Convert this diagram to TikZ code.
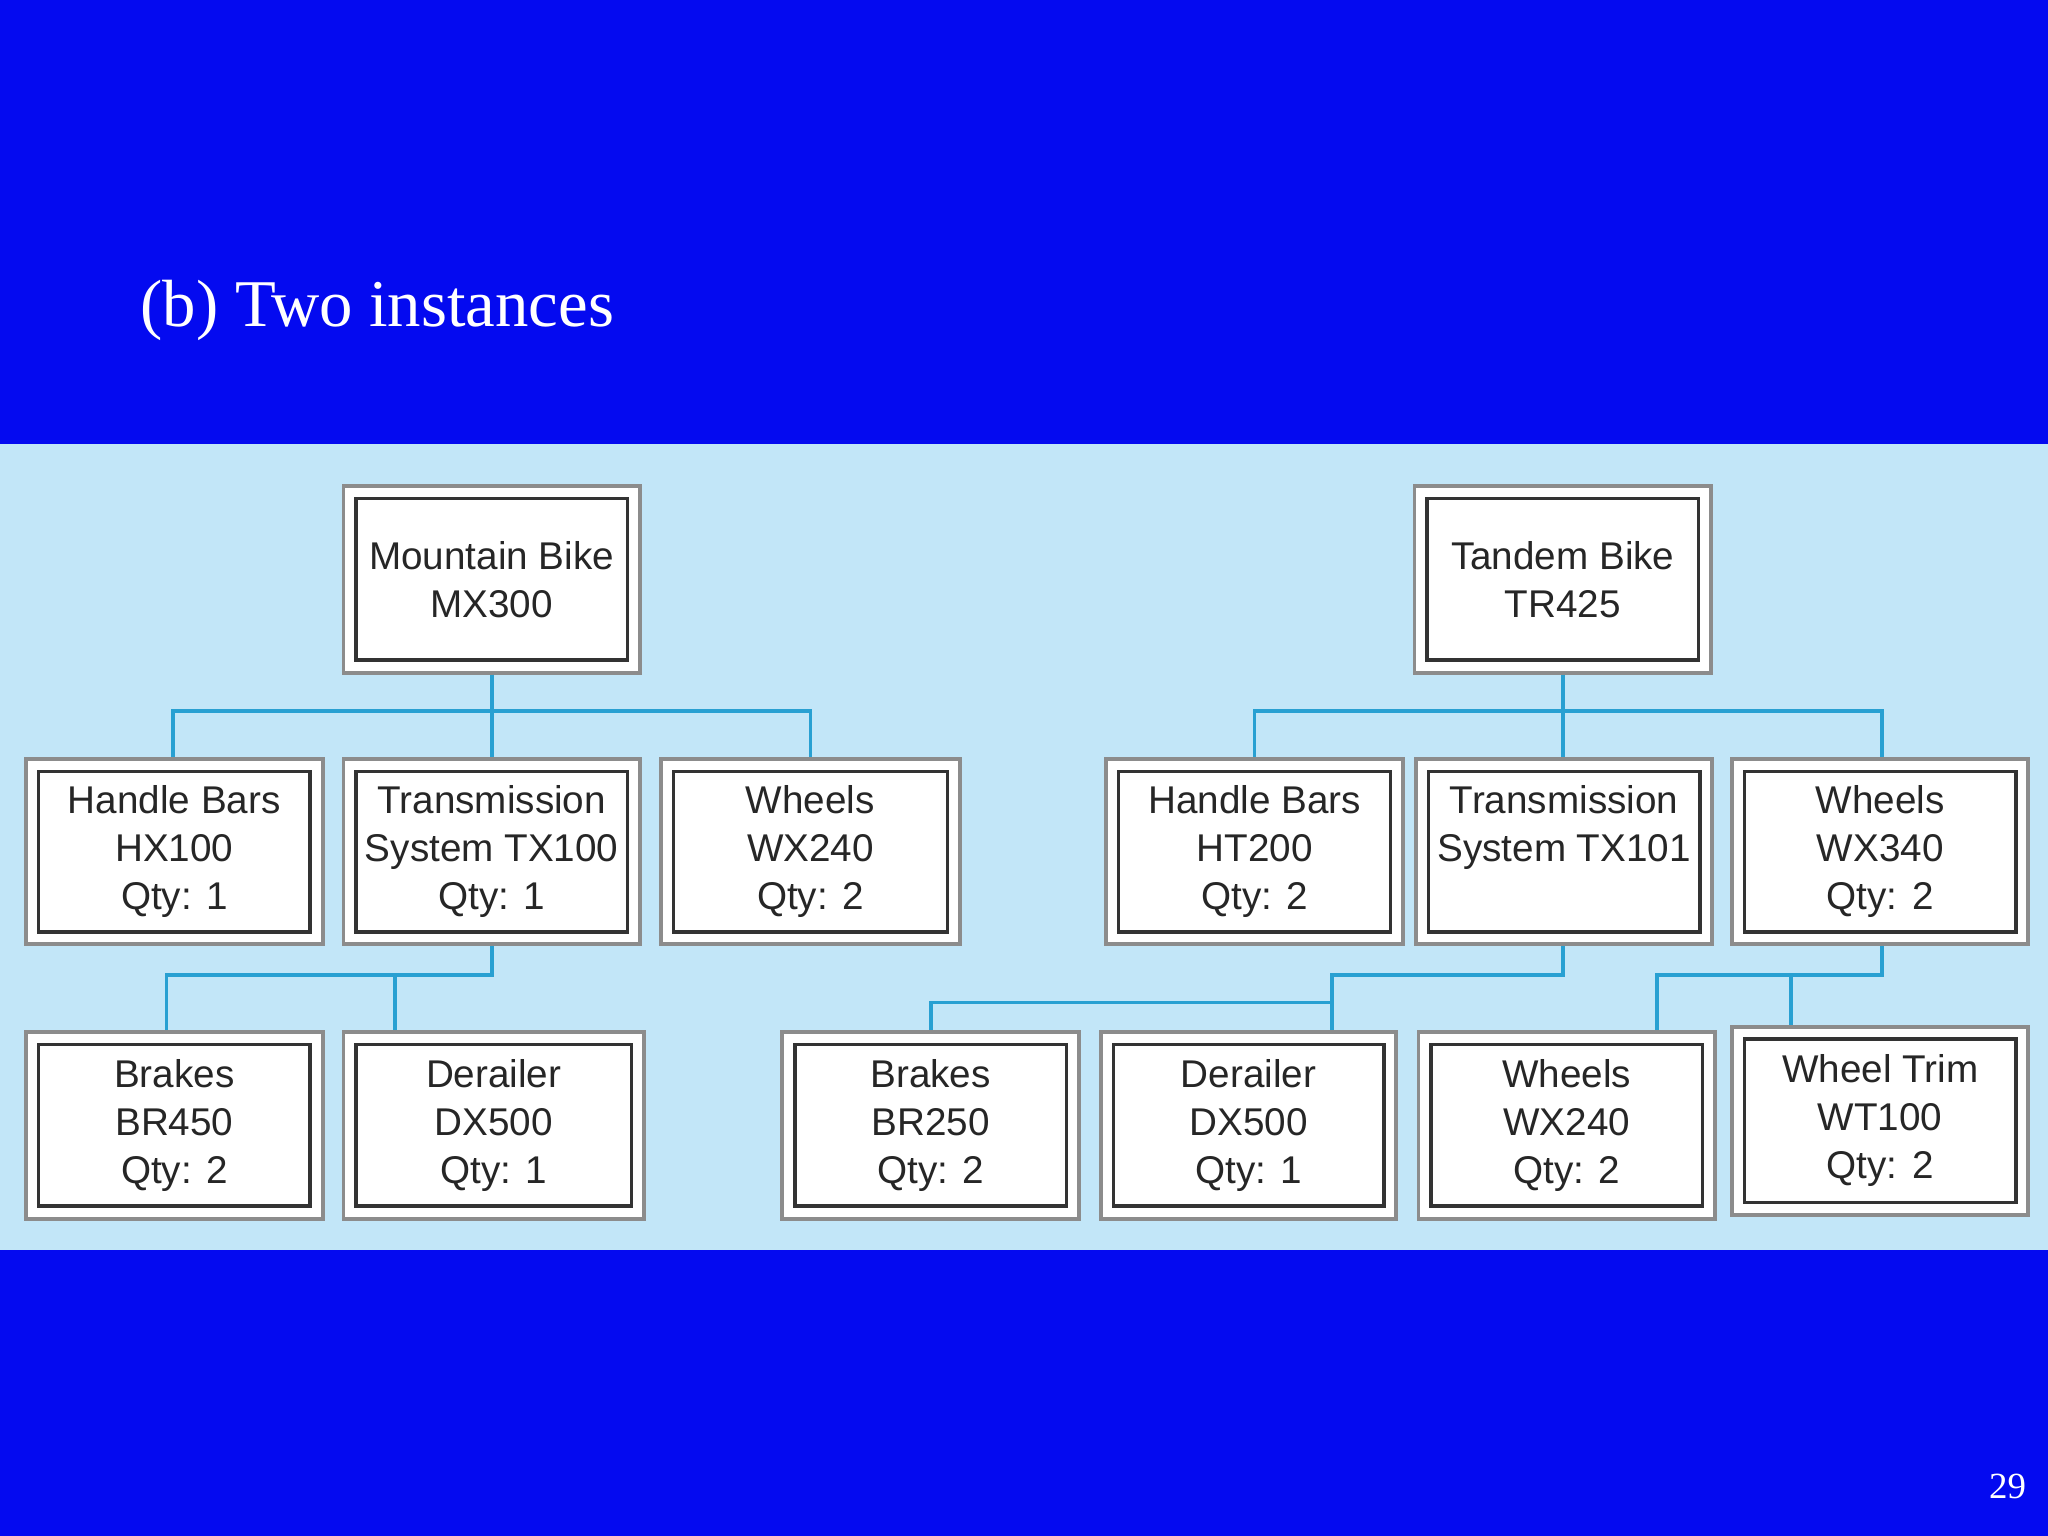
\documentclass[tikz,border=0pt]{standalone}
\usepackage{fontspec}
\setmainfont{Liberation Serif}
\newfontfamily\arial{Liberation Sans}
\usetikzlibrary{fit,calc}
\definecolor{slideblue}{RGB}{4,10,240}
\definecolor{band}{RGB}{194,230,248}
\definecolor{conn}{RGB}{40,160,210}
\tikzset{
 outerbox/.style={fit={#1},inner sep=0pt,draw=black!45,line width=1.1pt,fill=white},
 conline/.style={draw=conn,line width=1.1pt},
 lbl/.style={font=\arial\fontsize{11}{13.7}\selectfont,align=center,text=black!85}
}
\newcommand\bx[6]{%
 \node[outerbox={(#2,#3)(#4,#5)}] (#1) {};
 \draw[black!80,line width=1pt] ($(#1.north west)+(11,11)$) rectangle ($(#1.south east)+(-11,-11)$);
 \node[lbl] at (#1.center) {#6};}
\begin{document}
\begin{tikzpicture}[x=0.013061cm,y=-0.013061cm]
\fill[slideblue] (0,0) rectangle (1568,1176);
\fill[band] (0,340) rectangle (1568,957);
\node[anchor=west,inner sep=0pt,text=white,font=\fontsize{19}{22}\selectfont] (title) at (107,238) {(b) Two instances};
\node[text=white,font=\fontsize{10.5}{12}\selectfont] (pg) at (1537,1138) {29};
\bx{mx}{263}{372}{490}{515}{Mountain Bike\\MX300}
\bx{hb}{20}{581}{247}{723}{Handle Bars\\HX100\\Qty: 1}
\bx{tx}{263}{581}{490}{723}{Transmission\\System TX100\\Qty: 1}
\bx{wh}{506}{581}{735}{723}{Wheels\\WX240\\Qty: 2}
\bx{br}{20}{790}{247}{933}{Brakes\\BR450\\Qty: 2}
\bx{de}{263}{790}{493}{933}{Derailer\\DX500\\Qty: 1}
\bx{tb}{1083}{372}{1310}{515}{Tandem Bike\\TR425}
\bx{hb2}{847}{581}{1074}{723}{Handle Bars\\HT200\\Qty: 2}
\bx{tx2}{1084}{581}{1311}{723}{Transmission\\System TX101\\\phantom{Qty: 2}}
\bx{wh2}{1326}{581}{1553}{723}{Wheels\\WX340\\Qty: 2}
\bx{br2}{599}{790}{826}{933}{Brakes\\BR250\\Qty: 2}
\bx{de2}{843}{790}{1069}{933}{Derailer\\DX500\\Qty: 1}
\bx{wh3}{1086}{790}{1313}{933}{Wheels\\WX240\\Qty: 2}
\bx{wt}{1326}{786}{1553}{930}{Wheel Trim\\WT100\\Qty: 2}
% connectors
\draw[conline] (mx.south) -- ++(0,28) -| ($(hb.north)+(-1,0)$);
\draw[conline] (mx.south) -- (tx.north-|mx.south);
\draw[conline] (mx.south) ++(0,28) -| (wh.north);
\draw[conline] (tx.south-|mx.south) -- ++(0,22) -| ($(br.north)+(-6,0)$);
\draw[conline] (tx.south-|mx.south) ++(0,22) -| ($(de.north west)+(41,0)$);
\draw[conline] (tb.south) -- ++(0,28) -| (hb2.north);
\draw[conline] (tb.south) -- (tx2.north-|tb.south);
\draw[conline] (tb.south) ++(0,28) -| (wh2.north-|1441,0);
\draw[conline] (tx2.south-|tb.south) -- ++(0,22) -| ($(de2.north east)+(-51,0)$);
\draw[conline] ($(de2.north east)+(-51,-21)$) -| (br2.north);
\draw[conline] (wh2.south-|1441,0) -- ++(0,22) -| ($(wh3.north east)+(-46,0)$);
\draw[conline] (wh2.south-|1441,0) ++(0,22) -| ($(wt.north west)+(47,0)$);
\end{tikzpicture}
\end{document}
